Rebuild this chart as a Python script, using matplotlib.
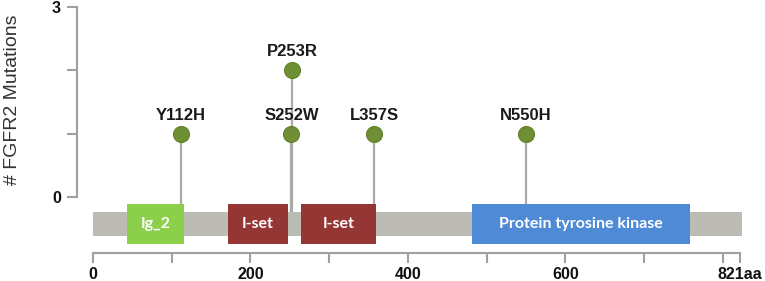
import matplotlib
matplotlib.use("Agg")
import matplotlib.pyplot as plt
from matplotlib.patches import Rectangle

# protein length and mutation data
protein_len = 821
mut_pos = [112, 252, 253, 357, 550]
mut_count = [1, 1, 2, 1, 1]
mut_label = ["Y112H", "S252W", "P253R", "L357S", "N550H"]

# Pfam domains
dom_name = ["Ig_2", "I-set", "I-set", "Protein tyrosine kinase"]
dom_start = [43, 171, 264, 481]
dom_end = [116, 248, 359, 758]
dom_color = ["#8ccf4b", "#943634", "#943634", "#4f8ad6"]

xticks = [0, 100, 200, 300, 400, 500, 600, 700, 800, 821]
xticklabels = ["0", "", "200", "", "400", "", "600", "", "", "821aa"]
yticks = [0, 1, 2, 3]
yticklabels = ["0", "", "", "3"]

fig = plt.figure(figsize=(7.65, 2.81), dpi=100)
ax = fig.add_axes([93 / 765, 28 / 281, 646.5 / 765, 246 / 281])
ax.set_xlim(0, protein_len)
ax.set_ylim(-0.884, 3)

bb_top, bb_bot = -0.24, -0.62
dm_top, dm_bot = -0.11, -0.74

# backbone
ax.add_patch(Rectangle((0, bb_bot), protein_len + 3, bb_top - bb_bot,
                       facecolor="#bcbcb4", edgecolor="none", zorder=1, clip_on=False))

# stems and heads
for p, c in zip(mut_pos, mut_count):
    ax.plot([p, p], [bb_top, c], color="#ababa6", lw=1.6, zorder=0.5)
ax.plot(mut_pos, mut_count, "o", ms=11.5, color="#6f8f34", mec="#61802b",
        mew=0.8, zorder=3, clip_on=False)
for p, c, t in zip(mut_pos, mut_count, mut_label):
    ax.annotate(t, (p, c), xytext=(0, 10), textcoords="offset points",
                ha="center", va="baseline", fontsize=12, fontweight="bold",
                family="Liberation Sans", color="#1a1a1a")

# domains
for n, s, e, col in zip(dom_name, dom_start, dom_end, dom_color):
    ax.add_patch(Rectangle((s, dm_bot), e - s, dm_top - dm_bot, facecolor=col,
                           edgecolor="none", zorder=2))
    ax.text((s + e) / 2, (dm_top + dm_bot) / 2, n, ha="center", va="center",
            color="white", fontsize=11.5, fontweight="bold", family="Lato",
            zorder=4)

# axes styling
for sp in ["top", "right"]:
    ax.spines[sp].set_visible(False)
ax.spines["left"].set_position(("outward", 11.5))
ax.spines["left"].set_bounds(0, 3)
ax.spines["bottom"].set_bounds(0, protein_len)
for sp in ["left", "bottom"]:
    ax.spines[sp].set_color("#a0a0a0")
    ax.spines[sp].set_linewidth(1.5)

ax.set_xticks(xticks)
ax.set_xticklabels(xticklabels)
ax.set_yticks(yticks)
ax.set_yticklabels(yticklabels)
ax.tick_params(axis="both", direction="out", length=7, width=1.5, color="#a0a0a0",
               labelsize=11.5, pad=3)
ax.tick_params(axis="y", pad=4.5)
for lab in ax.get_xticklabels() + ax.get_yticklabels():
    lab.set_fontweight("bold")
    lab.set_family("Liberation Sans")
    lab.set_color("#111111")

fig.text(13 / 765, (281 - 100) / 281, "# FGFR2 Mutations", rotation=90,
         ha="center", va="center", fontsize=14, family="Liberation Sans",
         color="#333333")

fig.savefig("out.png", dpi=100)
